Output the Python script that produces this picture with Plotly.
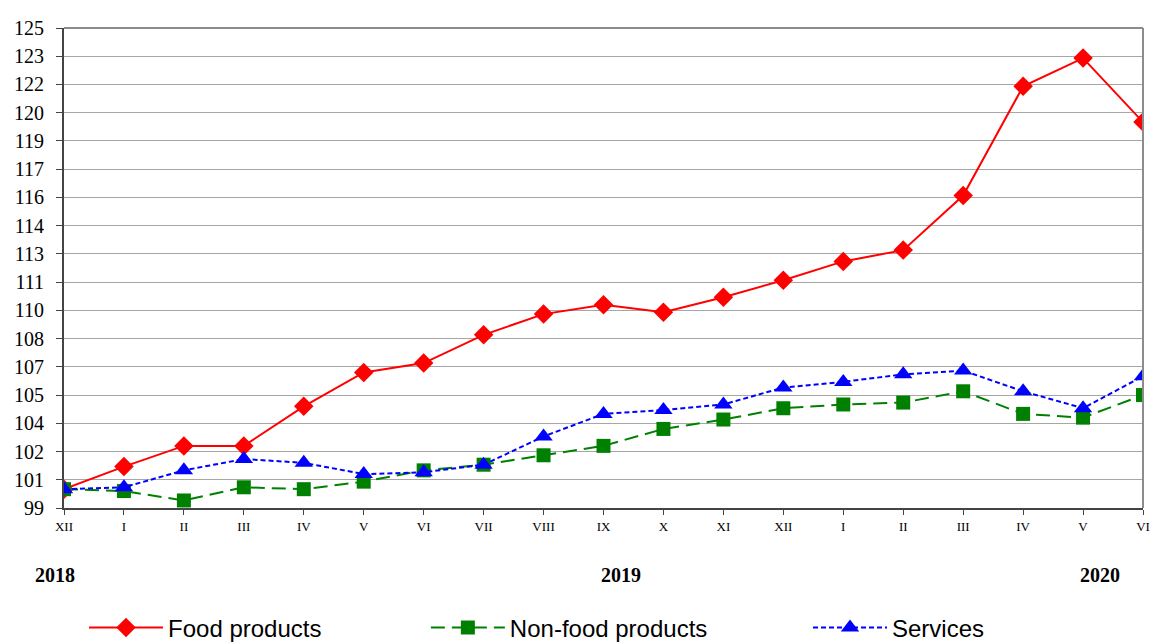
import numpy as np
import plotly.graph_objects as go

# Month labels (Dec 2018 .. Jun 2020)
months = ["XII", "I", "II", "III", "IV", "V", "VI", "VII", "VIII", "IX", "X",
          "XI", "XII", "I", "II", "III", "IV", "V", "VI"]
x_pos = list(range(len(months)))

food = [100.0, 101.2, 102.3, 102.3, 104.4, 106.2, 106.7, 108.2, 109.3, 109.8,
        109.4, 110.2, 111.1, 112.1, 112.7, 115.6, 121.4, 122.9, 119.5]
nonfood = [100.0, 99.9, 99.4, 100.1, 100.0, 100.4, 101.0, 101.3, 101.8, 102.3,
           103.2, 103.7, 104.3, 104.5, 104.6, 105.2, 104.0, 103.8, 105.0]
services = [100.0, 100.1, 101.0, 101.6, 101.4, 100.8, 100.9, 101.3, 102.8, 104.0,
            104.2, 104.5, 105.4, 105.7, 106.1, 106.3, 105.2, 104.3, 106.0]

years = ["2018", "2019", "2020"]
year_x = [-0.008, 0.516, 0.96]

# y axis: 99 .. 124.5 in steps of 1.5, labels shown rounded
y_ticks = list(np.arange(99, 124.51, 1.5))
y_text = [str(int(np.floor(v + 0.5))) for v in y_ticks]

fig = go.Figure()
fig.add_trace(go.Scatter(
    x=x_pos, y=food, name="Food products", mode="lines+markers",
    line=dict(color="#ff0000", width=2),
    marker=dict(symbol="diamond", size=15, color="#ff0000"),
    legend="legend",
))
fig.add_trace(go.Scatter(
    x=x_pos, y=nonfood, name="Non-food products", mode="lines+markers",
    line=dict(color="#008000", width=2, dash="14px,7px"),
    marker=dict(symbol="square", size=14, color="#008000"),
    legend="legend2",
))
fig.add_trace(go.Scatter(
    x=x_pos, y=services, name="Services", mode="lines+markers",
    line=dict(color="#0000ff", width=2, dash="5px,3px"),
    marker=dict(symbol="triangle-up", size=16, color="#0000ff"),
    legend="legend3",
))

for label, xp in zip(years, year_x):
    fig.add_annotation(
        text="<b>" + label + "</b>", x=xp, y=-0.14, xref="paper", yref="paper",
        xanchor="center", yanchor="middle", showarrow=False,
        font=dict(family="Liberation Serif", size=20, color="black"),
    )

legend_font = dict(family="Liberation Sans", size=24, color="black")


def legend_box(xc):
    return dict(
        orientation="h", x=xc, xref="container", y=0.022, yref="container",
        xanchor="left", yanchor="middle", font=legend_font,
        itemwidth=74, bgcolor="rgba(0,0,0,0)",
    )


fig.update_layout(
    width=1151, height=642,
    margin=dict(l=64, r=8, t=28, b=134, autoexpand=False),
    paper_bgcolor="white", plot_bgcolor="white",
    showlegend=True,
    legend=legend_box(0.073),
    legend2=legend_box(0.370),
    legend3=legend_box(0.702),
    xaxis=dict(
        range=[0, 18], tickvals=x_pos, ticktext=months,
        showgrid=False, zeroline=False,
        ticks="outside", ticklen=5, tickcolor="#444",
        tickfont=dict(family="Liberation Serif", size=13, color="black"),
        showline=True, linecolor="#444", linewidth=2, mirror=False,
    ),
    yaxis=dict(
        range=[99, 124.5], tickvals=y_ticks, ticktext=y_text,
        showgrid=True, gridcolor="#a6a6a6", gridwidth=1,
        zeroline=False,
        ticks="outside", ticklen=6, tickcolor="#444",
        ticklabelstandoff=8,
        tickfont=dict(family="Liberation Serif", size=20, color="black"),
        showline=True, linecolor="#444", linewidth=2,
    ),
)

# Light frame on top and right of the plotting area
fig.add_shape(type="line", xref="paper", yref="paper", x0=0, x1=1, y0=1, y1=1,
              line=dict(color="#8c8c8c", width=2))
fig.add_shape(type="line", xref="paper", yref="paper", x0=1, x1=1, y0=0, y1=1,
              line=dict(color="#8c8c8c", width=2))

fig.write_html("out.html")
